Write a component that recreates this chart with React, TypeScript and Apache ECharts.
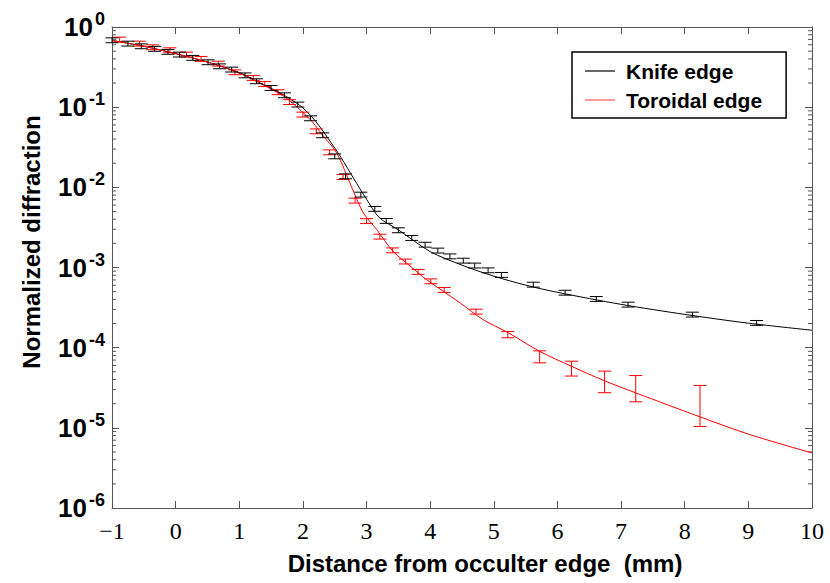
import React, { useEffect, useRef } from "react";
import * as echarts from "echarts";

// ---------- data ----------
const knifeCurveX = [-1, -0.5, 0, 0.5, 1, 1.25, 1.5, 1.75, 2.0, 2.2, 2.4, 2.6, 2.8, 3.0, 3.2, 3.5, 4.0, 4.5, 5.0, 5.5, 6.0, 7.0, 8.0, 9.0, 10.0];
const knifeCurveY = [0.68, 0.575, 0.465, 0.365, 0.27, 0.215, 0.172, 0.134, 0.098, 0.0665, 0.0403, 0.0235, 0.0128, 0.0071, 0.0042, 0.00295, 0.00158, 0.00107, 0.00078, 0.000603, 0.00049, 0.000347, 0.00026, 0.000202, 0.000165];

const toroidCurveX = [-1, -0.5, 0, 0.5, 1, 1.5, 1.75, 2.0, 2.16, 2.3, 2.53, 2.76, 2.95, 3.16, 3.42, 3.7, 3.94, 4.47, 4.83, 5.23, 5.72, 6.22, 6.72, 7.23, 8.24, 9.03, 10.0];
const toroidCurveY = [0.68, 0.575, 0.465, 0.365, 0.265, 0.168, 0.128, 0.086, 0.0638, 0.0457, 0.0269, 0.0103, 0.0048, 0.00297, 0.00158, 0.00102, 0.000708, 0.000362, 0.000224, 0.000153, 9.0e-5, 5.86e-5, 3.92e-5, 2.73e-5, 1.37e-5, 8.2e-6, 4.86e-6];

const knifeX = [-1.0, -0.75, -0.54, -0.33, -0.12, 0.06, 0.27, 0.51, 0.69, 0.88, 1.09, 1.27, 1.5, 1.71, 1.92, 2.12, 2.31, 2.5, 2.67, 2.91, 3.13, 3.31, 3.5, 3.71, 3.92, 4.12, 4.31, 4.52, 4.7, 4.91, 5.12, 5.62, 6.12, 6.61, 7.11, 8.12, 9.13];
const knifeY = [0.684, 0.622, 0.576, 0.535, 0.491, 0.454, 0.413, 0.364, 0.324, 0.295, 0.25, 0.211, 0.174, 0.141, 0.108, 0.0728, 0.0447, 0.0244, 0.01375, 0.00813, 0.0054, 0.00382, 0.00292, 0.00234, 0.00193, 0.00163, 0.00138, 0.00122, 0.00106, 0.000924, 0.00081, 0.000612, 0.000486, 0.000406, 0.000345, 0.000259, 0.000204];
const knifeErr = [0.07, 0.07, 0.07, 0.07, 0.07, 0.07, 0.07, 0.07, 0.07, 0.07, 0.07, 0.07, 0.07, 0.07, 0.07, 0.07, 0.07, 0.07, 0.07, 0.07, 0.07, 0.07, 0.07, 0.07, 0.07, 0.07, 0.07, 0.07, 0.07, 0.07, 0.07, 0.07, 0.07, 0.07, 0.07, 0.07, 0.07];

const toroidX = [-0.88, -0.57, -0.36, -0.09, 0.17, 0.4, 0.67, 0.93, 1.22, 1.4, 1.61, 1.79, 2.0, 2.21, 2.42, 2.63, 2.82, 3.0, 3.21, 3.41, 3.61, 3.81, 4.01, 4.22, 4.72, 5.22, 5.72, 6.22, 6.74, 7.23, 8.24];
const toroidY = [0.698, 0.622, 0.56, 0.514, 0.454, 0.401, 0.35, 0.273, 0.232, 0.195, 0.154, 0.116, 0.081, 0.0501, 0.0274, 0.0135, 0.00684, 0.0038, 0.00243, 0.00164, 0.00119, 0.000883, 0.000674, 0.000526, 0.000282, 1.46e-4, 7.8e-5, 5.6e-5, 3.92e-5, 3.3e-5, 2.21e-5];
const toroidErr = [0.07, 0.07, 0.07, 0.07, 0.07, 0.07, 0.07, 0.07, 0.07, 0.07, 0.07, 0.07, 0.07, 0.07, 0.07, 0.07, 0.07, 0.07, 0.07, 0.07, 0.07, 0.07, 0.07, 0.07, 0.07, 0.09, 0.17, 0.21, 0.3, 0.36, 0.53];

const minorMantissas = [2, 3, 4, 5, 6, 7, 8, 9];
const decades = [1e-6, 1e-5, 1e-4, 1e-3, 1e-2, 1e-1];

const X_MIN = -1;
const X_MAX = 10;
const Y_MIN = 1e-6;
const Y_MAX = 1;

const FONT = "'Liberation Sans', Arial, sans-serif";

function errorBars(name: string, xs: number[], ys: number[], errs: number[], color: string) {
  return {
    type: "custom",
    name,
    silent: true,
    z: 4,
    data: xs.map((x, i) => [x, ys[i] * (1 - errs[i]), ys[i] * (1 + errs[i])]),
    encode: { x: 0, y: [1, 2] },
    renderItem: (_p: any, api: any) => {
      const x = api.value(0);
      const lo = api.coord([x, api.value(1)]);
      const hi = api.coord([x, api.value(2)]);
      const w = 6.5;
      const st = { stroke: color, lineWidth: 1 };
      return {
        type: "group",
        children: [
          { type: "line", shape: { x1: lo[0], y1: lo[1], x2: hi[0], y2: hi[1] }, style: st },
          { type: "line", shape: { x1: lo[0] - w, y1: lo[1], x2: lo[0] + w, y2: lo[1] }, style: st },
          { type: "line", shape: { x1: hi[0] - w, y1: hi[1], x2: hi[0] + w, y2: hi[1] }, style: st },
        ],
      };
    },
  };
}

export default function App() {
  const ref = useRef<HTMLDivElement>(null);
  useEffect(() => {
    if (!ref.current) return;
    const chart = echarts.init(ref.current, null, { renderer: "svg" });
    const minorVals: number[][] = [];
    decades.forEach((d) => minorMantissas.forEach((m) => minorVals.push([X_MIN, m * d])));

    const axisLineStyle = { color: "#555", width: 1 };
    const option: any = {
      animation: false,
      backgroundColor: "#fff",
      grid: { left: 112, right: 18, top: 27, bottom: 75 },
      xAxis: [
        {
          type: "value",
          min: X_MIN,
          max: X_MAX,
          interval: 1,
          axisLine: { show: true, onZero: false, lineStyle: axisLineStyle },
          axisTick: { show: true, inside: true, length: 7, lineStyle: axisLineStyle },
          axisLabel: {
            margin: 11,
            color: "#000",
            fontFamily: "'Liberation Serif', 'Times New Roman', serif",
            fontSize: 24,
            formatter: (v: number) => String(v).replace("-", "\u2212"),
          },
          splitLine: { show: false },
        },
        {
          type: "value",
          position: "top",
          min: X_MIN,
          max: X_MAX,
          interval: 1,
          axisLine: { show: true, onZero: false, lineStyle: axisLineStyle },
          axisTick: { show: true, inside: true, length: 7, lineStyle: axisLineStyle },
          axisLabel: { show: false },
          splitLine: { show: false },
        },
      ],
      yAxis: [
        {
          type: "log",
          logBase: 10,
          min: Y_MIN,
          max: Y_MAX,
          axisLine: { show: true, onZero: false, lineStyle: axisLineStyle },
          axisTick: { show: true, inside: true, length: 7, lineStyle: axisLineStyle },
          axisLabel: {
            margin: 7,
            formatter: (v: number) => `{b|10}{s|${Math.round(Math.log10(v))}}`,
            rich: {
              b: { fontFamily: FONT, fontWeight: "bold", fontSize: 26, color: "#000" },
              s: { fontFamily: FONT, fontWeight: "bold", fontSize: 18, color: "#000", padding: [0, 0, 16, 2] },
            },
          },
          splitLine: { show: false },
        },
        {
          type: "log",
          logBase: 10,
          position: "right",
          min: Y_MIN,
          max: Y_MAX,
          axisLine: { show: true, onZero: false, lineStyle: axisLineStyle },
          axisTick: { show: true, inside: true, length: 7, lineStyle: axisLineStyle },
          axisLabel: { show: false },
          splitLine: { show: false },
        },
      ],
      legend: {
        data: [
          { name: "Knife edge", icon: "rect" },
          { name: "Toroidal edge", icon: "rect" },
        ],
        orient: "vertical",
        left: 572,
        top: 52,
        padding: [8, 24, 7, 13],
        itemGap: 7,
        itemWidth: 30,
        itemHeight: 1.2,
        borderColor: "#000",
        borderWidth: 1.5,
        backgroundColor: "#fff",
        textStyle: {
          fontFamily: FONT,
          fontWeight: "bold",
          fontSize: 21,
          color: "#000",
          lineHeight: 22,
          padding: [0, 0, 0, 6],
        },
      },
      series: [
        {
          type: "line",
          name: "Knife edge",
          data: knifeCurveX.map((x, i) => [x, knifeCurveY[i]]),
          showSymbol: false,
          symbol: "none",
          smooth: 0.3,
          lineStyle: { color: "#000", width: 1 },
          itemStyle: { color: "#000" },
          z: 3,
        },
        {
          type: "line",
          name: "Toroidal edge",
          data: toroidCurveX.map((x, i) => [x, toroidCurveY[i]]),
          showSymbol: false,
          symbol: "none",
          smooth: 0.3,
          lineStyle: { color: "#ff0000", width: 1 },
          itemStyle: { color: "#ff5555" },
          z: 3,
        },
        errorBars("Toroidal edge data", toroidX, toroidY, toroidErr, "#ff0000"),
        errorBars("Knife edge data", knifeX, knifeY, knifeErr, "#000"),
        {
          type: "custom",
          name: "minor ticks",
          silent: true,
          data: minorVals,
          encode: { x: 0, y: 1 },
          clip: false,
          renderItem: (_p: any, api: any) => {
            const v = api.value(1);
            const l = api.coord([X_MIN, v]);
            const r = api.coord([X_MAX, v]);
            const st = { stroke: "#555", lineWidth: 1 };
            return {
              type: "group",
              children: [
                { type: "line", shape: { x1: l[0], y1: l[1], x2: l[0] + 4, y2: l[1] }, style: st },
                { type: "line", shape: { x1: r[0] - 4, y1: r[1], x2: r[0], y2: r[1] }, style: st },
              ],
            };
          },
        },
      ],
      graphic: [
        {
          type: "text",
          x: 31,
          y: 242,
          rotation: Math.PI / 2,
          style: {
            text: "Normalized diffraction",
            fontFamily: FONT,
            fontWeight: "bold",
            fontSize: 24,
            fill: "#000",
            align: "center",
            verticalAlign: "middle",
          },
        },
        {
          type: "text",
          x: 485,
          y: 563,
          style: {
            text: "Distance from occulter edge  (mm)",
            fontFamily: FONT,
            fontWeight: "bold",
            fontSize: 24,
            fill: "#000",
            align: "center",
            verticalAlign: "middle",
          },
        },
      ],
    };
    chart.setOption(option);
    return () => chart.dispose();
  }, []);
  return (
    <div
      ref={ref}
      style={{ position: "fixed", left: 0, top: 0, width: 830, height: 583, background: "#fff" }}
    />
  );
}
